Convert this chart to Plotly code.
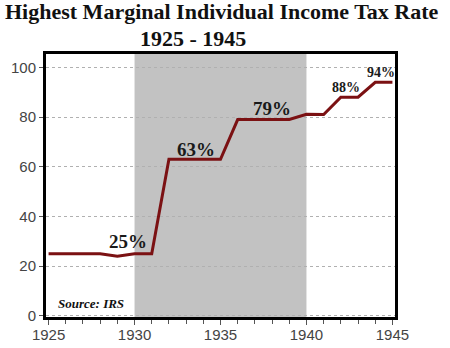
import plotly.graph_objects as go

years = list(range(1925, 1946))
rates = [25, 25, 25, 25, 24, 25, 25, 63, 63, 63, 63, 79, 79, 79, 79, 81.1, 81, 88, 88, 94, 94]

label_years = [1929.6, 1933.6, 1938.0, 1942.3, 1944.35]
label_values = [29.9, 66.9, 83.3, 92.0, 97.9]
label_texts = ["25%", "63%", "79%", "88%", "94%"]
label_sizes = [19, 19, 19, 14, 14]

x_ticks = [1925, 1930, 1935, 1940, 1945]
y_ticks = [0, 20, 40, 60, 80, 100]

serif = "Georgia, 'Liberation Serif', 'DejaVu Serif', serif"
sans = "Arial, 'Liberation Sans', sans-serif"

fig = go.Figure()
fig.add_trace(go.Scatter(x=years, y=rates, mode="lines",
                         line=dict(color="#7b1113", width=3), hoverinfo="skip"))

fig.add_shape(type="rect", xref="x", yref="y", x0=1930, x1=1940, y0=-0.5, y1=105.4,
              fillcolor="#c2c2c2", line=dict(width=0), layer="below")

for x, y, t, s in zip(label_years, label_values, label_texts, label_sizes):
    fig.add_annotation(x=x, y=y, text="<b>" + t + "</b>", showarrow=False,
                       font=dict(family=serif, size=s, color="#1a1a1a"))

fig.add_annotation(xref="paper", yref="paper", x=0.03, y=0.015, xanchor="left", yanchor="bottom",
                   text="<b><i>Source: IRS</i></b>", showarrow=False,
                   font=dict(family=serif, size=13, color="#111"))
fig.add_annotation(xref="paper", yref="paper", x=0.5, y=1, xanchor="center", yanchor="bottom",
                   text="<b>Highest Marginal Individual Income Tax Rate</b>",
                   showarrow=False, xshift=1, yshift=28,
                   font=dict(family=serif, size=22, color="#111"))
fig.add_annotation(xref="paper", yref="paper", x=0.5, y=1, xanchor="center", yanchor="bottom",
                   text="<b>1925 - 1945</b>",
                   showarrow=False, xshift=-28, yshift=1,
                   font=dict(family=serif, size=22, color="#111"))

fig.update_layout(
    width=450, height=348,
    margin=dict(l=46, r=55, t=54, b=31),
    paper_bgcolor="white", plot_bgcolor="white",
    showlegend=False,
    xaxis=dict(range=[1924.85, 1945.15], tickvals=x_ticks, ticks="outside", ticklen=5,
               tickcolor="#555", tickwidth=1, ticklabelstandoff=-3, automargin=False,
               minor=dict(dtick=1, tick0=1925, ticks="outside", ticklen=4, tickcolor="#555"),
               showgrid=False, zeroline=False, showline=True, linecolor="black", linewidth=3,
               mirror=True, tickfont=dict(family=sans, size=15, color="#444")),
    yaxis=dict(range=[-0.5, 105.4], tickvals=y_ticks, ticks="outside", ticklen=4, automargin=False,
               tickcolor="#555", showgrid=True, gridcolor="#b0b0b0", griddash="dot", gridwidth=1,
               zeroline=False, showline=True, linecolor="black", linewidth=3, mirror=True,
               tickfont=dict(family=sans, size=15, color="#444")),
)

fig.write_html("out.html")
